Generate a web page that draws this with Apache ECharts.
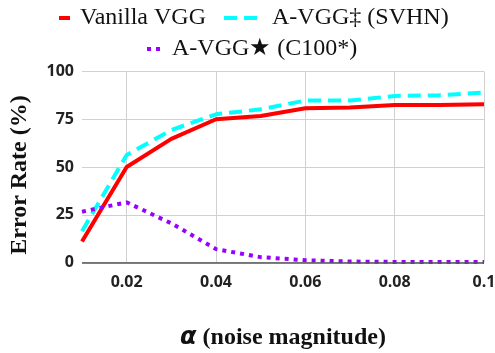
<!DOCTYPE html>
<html>
<head>
<meta charset="utf-8">
<script src="https://cdn.jsdelivr.net/npm/echarts@6/dist/echarts.min.js"></script>
<style>
  html, body { margin: 0; padding: 0; background: #fff; }
  #chart { width: 495px; height: 353px; }
</style>
</head>
<body>
<div id="chart"></div>
<script>
const alphas = ["0.01", "0.02", "0.03", "0.04", "0.05", "0.06", "0.07", "0.08", "0.09", "0.1"];
const vanilla = [11, 50, 64.7, 75, 76.7, 80.8, 81.1, 82.5, 82.5, 82.9];
const svhn = [16.4, 56.3, 69.4, 77.6, 80.2, 84.8, 84.8, 87.2, 87.6, 89];
const c100 = [26.6, 31.5, 20.5, 7, 2.8, 1.2, 0.5, 0.3, 0.3, 0.3];
const yTicks = [0, 25, 50, 75, 100];

const chart = echarts.init(document.getElementById("chart"));

const tickFont = { fontFamily: "Open Sans", fontWeight: "bold", fontSize: 16, color: "#222" };
const serif = "Liberation Serif";
const showEven = (i) => i % 2 === 1;

const legendBase = {
  padding: 0,
  itemHeight: 10,
  itemStyle: { opacity: 0 },
  lineStyle: { width: 4 },
  textStyle: { fontFamily: serif, fontSize: 24, color: "#111", padding: [0, 0, 0, 5] },
};

const option = {
  animation: false,
  legend: [
    { ...legendBase, data: ["Vanilla VGG"], left: 57, top: 6, itemWidth: 11 },
    { ...legendBase, data: ["A-VGG\u2021 (SVHN)"], left: 222, top: 6, itemWidth: 38 },
    { ...legendBase, data: ["A-VGG\u2605 (C100*)"], left: 145, top: 37, itemWidth: 15 },
  ],
  grid: { left: 82, right: 11, top: 71.5, bottom: 90.5, outerBoundsMode: "none" },
  xAxis: {
    type: "category",
    data: alphas,
    boundaryGap: false,
    name: "{a|\u03b1} (noise magnitude)",
    nameLocation: "middle",
    nameGap: 63,
    nameTextStyle: {
      fontFamily: serif, fontWeight: "bold", fontSize: 24, color: "#111",
      rich: { a: { fontFamily: "DejaVu Sans", fontWeight: "bold", fontStyle: "italic", fontSize: 24, color: "#111" } },
    },
    axisLine: { show: false },
    axisTick: { show: false },
    axisLabel: { ...tickFont, interval: showEven, margin: 12 },
    splitLine: { show: true, interval: showEven, lineStyle: { color: "#d0d0d0", width: 1 } },
  },
  yAxis: {
    type: "value",
    min: yTicks[0],
    max: yTicks[yTicks.length - 1],
    interval: 25,
    name: "Error Rate (%)",
    nameLocation: "middle",
    nameGap: 50,
    nameRotate: 90,
    nameTextStyle: { fontFamily: serif, fontWeight: "bold", fontSize: 24, color: "#111", padding: [0, 16, 0, 0] },
    axisLine: { show: false },
    axisTick: { show: false },
    axisLabel: { ...tickFont, margin: 8 },
    splitLine: { lineStyle: { color: "#d0d0d0", width: 1 } },
  },
  series: [
    {
      name: "Vanilla VGG",
      type: "line",
      data: vanilla,
      symbol: "none",
      itemStyle: { color: "#ff0000" },
      lineStyle: { color: "#ff0000", width: 4 },
      z: 3,
    },
    {
      name: "A-VGG\u2021 (SVHN)",
      type: "line",
      data: svhn,
      symbol: "none",
      itemStyle: { color: "#00ffff" },
      lineStyle: { color: "#00ffff", width: 4, type: [13, 7] },
      z: 2,
    },
    {
      name: "A-VGG\u2605 (C100*)",
      type: "line",
      data: c100,
      symbol: "none",
      itemStyle: { color: "#9900ff" },
      lineStyle: { color: "#9900ff", width: 4, type: [4, 5] },
      z: 4,
      markLine: {
        silent: true,
        symbol: "none",
        label: { show: false },
        lineStyle: { color: "#555", width: 1.5, type: "solid" },
        data: [{ yAxis: 0 }],
      },
    },
  ],
};

chart.setOption(option);
</script>
</body>
</html>
